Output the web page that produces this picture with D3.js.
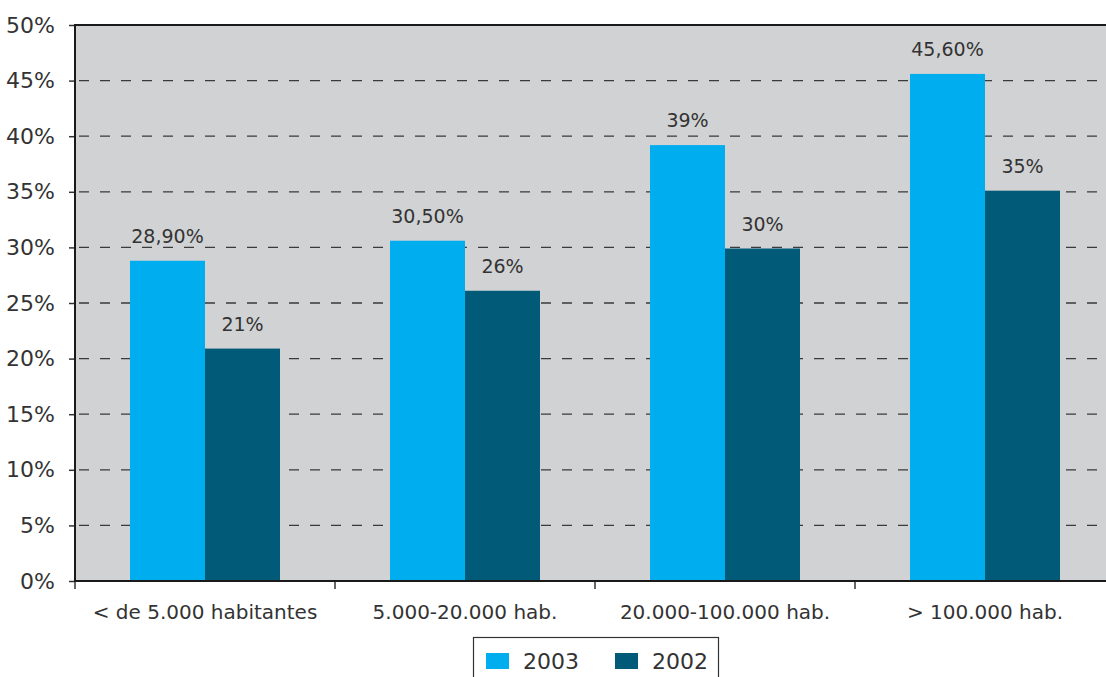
<!DOCTYPE html>
<html><head><meta charset="utf-8">
<script src="https://cdn.jsdelivr.net/npm/d3@7"></script>
<style>
html,body{margin:0;padding:0;background:#fff;}
svg{display:block;font-family:"DejaVu Sans",sans-serif;}
</style></head>
<body>
<svg id="c" width="1106" height="677"></svg>
<script>
const categories = ["< de 5.000 habitantes","5.000-20.000 hab.","20.000-100.000 hab.","> 100.000 hab."];
const seriesNames = ["2003","2002"];
const values2003 = [28.8, 30.6, 39.2, 45.6];
const values2002 = [20.9, 26.1, 29.9, 35.1];
const labels2003 = ["28,90%","30,50%","39%","45,60%"];
const labels2002 = ["21%","26%","30%","35%"];
const yTicks = [0,5,10,15,20,25,30,35,40,45,50];
const yTickLabels = ["0%","5%","10%","15%","20%","25%","30%","35%","40%","45%","50%"];
const colors = ["#00aeef","#005a78"];

const svg = d3.select("#c");
const M = {left:75, top:25, right:1115, bottom:581};
const x0 = d3.scaleBand().domain(categories).range([M.left, M.right]).padding(0);
const x1 = d3.scaleBand().domain(seriesNames).range([0, x0.bandwidth()]).paddingInner(0).paddingOuter(0.7333);
const y = d3.scaleLinear().domain([0,50]).range([M.bottom, M.top]);

svg.append("rect").attr("x",M.left).attr("y",M.top).attr("width",M.right-M.left).attr("height",M.bottom-M.top).attr("fill","#d1d2d4");

// gridlines
svg.append("g").selectAll("line").data(yTicks.filter(d=>d>0 && d<50)).join("line")
  .attr("x1",M.left).attr("x2",M.right).attr("y1",d=>y(d)).attr("y2",d=>y(d))
  .attr("stroke","#3a3a3a").attr("stroke-width",1.3).attr("stroke-dasharray","10,11").attr("stroke-dashoffset",-4);

const data = categories.map((c,i)=>({c, vals:[
  {s:"2003", v:values2003[i], l:labels2003[i]},
  {s:"2002", v:values2002[i], l:labels2002[i]}]}));

const g = svg.append("g").selectAll("g").data(data).join("g").attr("transform",d=>`translate(${x0(d.c)},0)`);
g.selectAll("rect").data(d=>d.vals).join("rect")
  .attr("x",d=>x1(d.s)).attr("width",x1.bandwidth())
  .attr("y",d=>y(d.v)).attr("height",d=>y(0)-y(d.v))
  .attr("fill",(d,i)=>colors[i]);
g.selectAll("text").data(d=>d.vals).join("text")
  .attr("x",d=>x1(d.s)+x1.bandwidth()/2).attr("y",d=>y(d.v)-18)
  .attr("text-anchor","middle").attr("font-size",19).attr("fill","#333")
  .text(d=>d.l);

// axes
const yAxis = d3.axisLeft(y).tickValues(yTicks).tickFormat((d,i)=>yTickLabels[i]).tickSize(6).tickPadding(14);
const ya = svg.append("g").attr("transform",`translate(${M.left},0)`).call(yAxis);
ya.select(".domain").remove();
ya.selectAll(".tick line").attr("stroke","#333").attr("stroke-width",1.5);
ya.selectAll("text").attr("font-size",22).attr("fill","#333").attr("font-family","DejaVu Sans, sans-serif");

// category separators ticks
svg.append("g").selectAll("line").data(categories).join("line")
  .attr("x1",d=>x0(d)).attr("x2",d=>x0(d)).attr("y1",M.bottom).attr("y2",M.bottom+8)
  .attr("stroke","#333").attr("stroke-width",1.5);
svg.append("g").selectAll("text").data(categories).join("text")
  .attr("x",d=>x0(d)+x0.bandwidth()/2).attr("y",619)
  .attr("text-anchor","middle").attr("font-size",20).attr("fill","#333").text(d=>d);

// frame lines
svg.append("line").attr("x1",M.left).attr("x2",M.right).attr("y1",M.top).attr("y2",M.top).attr("stroke","#1a1a1a").attr("stroke-width",2);
svg.append("line").attr("x1",M.left).attr("x2",M.left).attr("y1",M.top-1).attr("y2",M.bottom+1).attr("stroke","#1a1a1a").attr("stroke-width",2);
svg.append("line").attr("x1",M.left-1).attr("x2",M.right).attr("y1",M.bottom).attr("y2",M.bottom).attr("stroke","#1a1a1a").attr("stroke-width",2);

// legend
const lg = svg.append("g");
lg.append("rect").attr("x",473.5).attr("y",637.5).attr("width",245).attr("height",50).attr("fill","#fff").attr("stroke","#333").attr("stroke-width",1.2);
const li = lg.selectAll("g").data(seriesNames).join("g").attr("transform",(d,i)=>`translate(${486+i*129},0)`);
li.append("rect").attr("x",0).attr("y",653).attr("width",23).attr("height",16).attr("fill",(d,i)=>colors[i]);
li.append("text").attr("x",37).attr("y",669).attr("font-size",22).attr("fill","#333").text(d=>d);
</script>
</body></html>
